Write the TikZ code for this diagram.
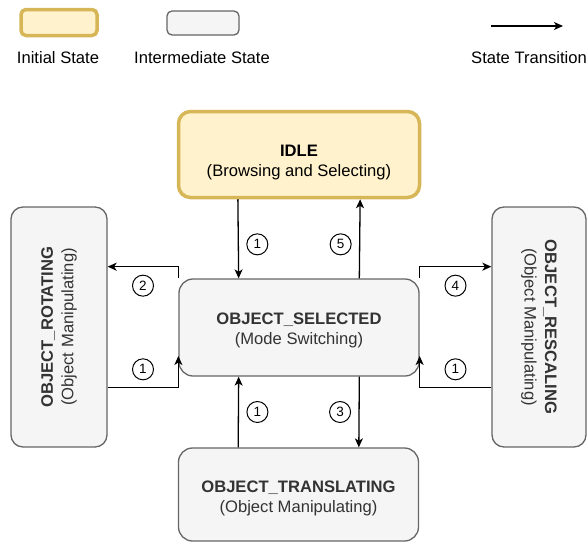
\documentclass[tikz,border=0pt]{standalone}
\usepackage{fontspec}
\setmainfont{Liberation Sans}
\usepackage{graphicx}
\usepackage{tikz}
\usetikzlibrary{arrows.meta,calc,positioning}
\definecolor{idlefill}{HTML}{FFF2CC}
\definecolor{idleline}{HTML}{D6B656}
\definecolor{statefill}{HTML}{F5F5F5}
\definecolor{stateline}{HTML}{666666}
\definecolor{statetext}{HTML}{333333}

\begin{document}
\begin{tikzpicture}[x=1pt,y=-1pt,
    font=\fontsize{16.6}{20.5}\selectfont,
    initstate/.style={draw=idleline, fill=idlefill, line width=3.5pt, rounded corners=12pt, align=center},
    midstate/.style={draw=stateline, fill=statefill, line width=1.3pt, rounded corners=14pt, text=statetext, align=center},
    transition/.style={-{Stealth[length=9pt,width=8pt,inset=2.5pt]}, line width=1.3pt},
    num/.style={draw, circle, fill=white, line width=1pt, minimum size=21pt, inner sep=0pt, font=\fontsize{13.5}{13.5}\selectfont}]
    \useasboundingbox (0,0) rectangle (587,544);

    % Legenda
    \node[initstate, minimum width=76pt, minimum height=26pt, rounded corners=5pt] (leginit) at (59,22.5) {};
    \node (leginitlbl) at (58,57.5) {Initial State};
    \node[midstate, minimum width=72pt, minimum height=24pt, rounded corners=5pt] (legmid) at (203,23) {};
    \node (legmidlbl) at (202,57.5) {Intermediate State};
    \coordinate (legfrom) at (491,26);
    \coordinate (legto) at (563,26);
    \draw[transition] (legfrom) -- (legto);
    \node (legtranslbl) at (529,57.5) {State Transition};

    % State
    \node[initstate, minimum width=241pt, minimum height=86pt, text height=54pt, text depth=10pt] (idle) at (299,154.5)
        {\textbf{IDLE}\\(Browsing and Selecting)};
    \node[midstate, minimum width=240pt, minimum height=97pt, text height=44pt, text depth=10pt] (selected) at (299,327.5)
        {\textbf{OBJECT\_SELECTED}\\(Mode Switching)};
    \node[midstate, minimum width=240pt, minimum height=93pt, text height=46pt, text depth=10pt] (translating) at (298.5,494.5)
        {\textbf{OBJECT\_TRANSLATING}\\(Object Manipulating)};
    \node[midstate, minimum width=96pt, minimum height=240pt, rounded corners=12pt] (rotating) at (59,327)
        {\rotatebox{90}{\begin{tabular}{@{}c@{}}\textbf{OBJECT\_ROTATING}\\(Object Manipulating)\end{tabular}}};
    \node[midstate, minimum width=94pt, minimum height=240pt, rounded corners=12pt] (rescaling) at (539,327)
        {\rotatebox{-90}{\begin{tabular}{@{}c@{}}\textbf{OBJECT\_RESCALING}\\(Object Manipulating)\end{tabular}}};

    % Transisi IDLE <-> OBJECT_SELECTED
    \draw[transition] ($(idle.south west)!.25!(idle.south east)$) -- ($(selected.north west)!.25!(selected.north east)$)
        node[num, pos=.57, right=8pt] (t1a) {1};
    \draw[transition] ($(selected.north west)!.75!(selected.north east)$) -- ($(idle.south west)!.75!(idle.south east)$)
        node[num, pos=.43, left=8pt] (t5) {5};

    % Transisi ke kiri (rotating)
    \draw[transition] (selected.north west) |- ($(rotating.north east)!.25!(rotating.south east)$)
        node[num, pos=.75, below=8pt] (t2) {2};
    \draw[transition] ($(rotating.north east)!.75!(rotating.south east)$) -| ($(selected.north west)!.79!(selected.south west)$)
        node[num, pos=.25, above=7pt] (t1b) {1};

    % Transisi ke kanan (rescaling)
    \draw[transition] (selected.north east) |- ($(rescaling.north west)!.25!(rescaling.south west)$)
        node[num, pos=.75, below=8pt] (t4) {4};
    \draw[transition] ($(rescaling.north west)!.75!(rescaling.south west)$) -| ($(selected.north east)!.79!(selected.south east)$)
        node[num, pos=.25, above=7pt] (t1c) {1};

    % Transisi ke bawah (translating)
    \draw[transition] ($(translating.north west)!.25!(translating.north east)$) -- ($(selected.south west)!.25!(selected.south east)$)
        node[num, midway, right=8pt] (t1d) {1};
    \draw[transition] ($(selected.south west)!.75!(selected.south east)$) -- ($(translating.north west)!.75!(translating.north east)$)
        node[num, midway, left=8pt] (t3) {3};
\end{tikzpicture}
\end{document}
